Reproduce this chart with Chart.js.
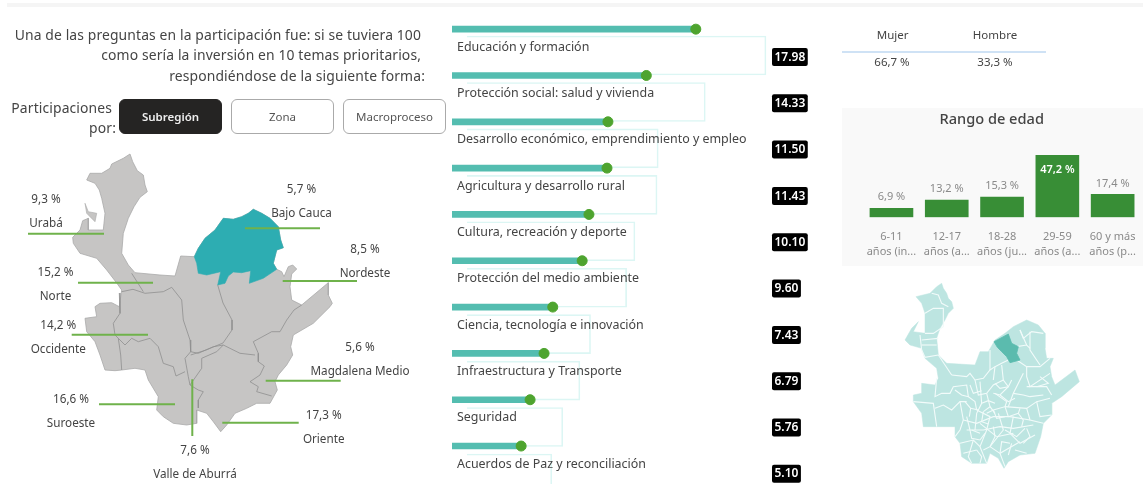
<!DOCTYPE html>
<html lang="es"><head><meta charset="utf-8">
<script src="https://cdn.jsdelivr.net/npm/chart.js@4"></script>
<style>
html,body{margin:0;padding:0;background:#fff;overflow:hidden;width:1143px;height:484px}
#page{position:relative;width:1143px;height:484px;overflow:hidden;font-family:"Noto Sans",sans-serif;color:#444;filter:blur(.35px)}
#page>*{position:absolute}
canvas{display:block}
.r{text-align:right;white-space:nowrap;font-size:13.9px;line-height:20px;letter-spacing:.12px}
.c{text-align:center;white-space:nowrap;font-size:11.5px;line-height:16px;transform:translateX(-50%)}
.b{box-sizing:border-box;width:103px;height:35px;border:1px solid #aaa;border-radius:6px;text-align:center;font-size:11.5px;line-height:33px;background:#fff;color:#555}
.b.on{background:#252423;color:#eee;border-color:#252423;font-weight:600}
</style></head><body>
<div id="page">
<div style="left:7px;top:3px;width:1136px;height:4px;background:#f5f5f5"></div>
<div class="r" style="right:722px;top:25px">Una de las preguntas en la participación fue: si se tuviera 100</div>
<div class="r" style="right:722px;top:45px">como sería la inversión en 10 temas prioritarios,</div>
<div class="r" style="right:718px;top:66px">respondiéndose de la siguiente forma:</div>
<div class="r" style="right:1031px;top:98px">Participaciones</div>
<div class="r" style="right:1027px;top:118px">por:</div>
<div class="b on" style="left:119px;top:99px">Subregión</div>
<div class="b" style="left:231px;top:99px">Zona</div>
<div class="b" style="left:343px;top:99px">Macroproceso</div>
<canvas id="mapBig" width="440" height="344" style="left:0;top:140px"></canvas>
<canvas id="boxes" width="390" height="530" style="left:440px;top:0"></canvas>
<canvas id="themes" width="390" height="484" style="left:440px;top:0"></canvas>
<div style="left:842px;top:50.5px;width:204px;height:2px;background:#cfe2f5"></div>
<div class="c" id="g0" style="left:892.7px;top:27px"></div>
<div class="c" id="g1" style="left:995px;top:27px"></div>
<div class="c" id="v0" style="left:892px;top:53.5px"></div>
<div class="c" id="v1" style="left:995px;top:53.5px"></div>
<div style="left:842px;top:108px;width:301px;height:158px;background:#f9f9f9"></div>
<div class="c" style="left:991.7px;top:107.5px;font-size:14.6px;line-height:20px;font-weight:500;color:#444">Rango de edad</div>
<canvas id="ages" width="301" height="158" style="left:842px;top:108px"></canvas>
<canvas id="mapSmall" width="263" height="214" style="left:880px;top:270px"></canvas>
</div>
<script>
// ---- data ----
const genderLabels = ["Mujer", "Hombre"];
const genderValues = [66.7, 33.3];
const ageLabels = [["6-11","años (in..."],["12-17","años (a..."],["18-28","años (ju..."],["29-59","años (a..."],["60 y más","años (p..."]];
const ageValues = [6.9, 13.2, 15.3, 47.2, 17.4];
const themeLabels = ["Educación y formación","Protección social: salud y vivienda","Desarrollo económico, emprendimiento y empleo","Agricultura y desarrollo rural","Cultura, recreación y deporte","Protección del medio ambiente","Ciencia, tecnología e innovación","Infraestructura y Transporte","Seguridad","Acuerdos de Paz y reconciliación"];
const themeValues = [17.98, 14.33, 11.50, 11.43, 10.10, 9.60, 7.43, 6.79, 5.76, 5.10];
const regionNames = ["Urabá","Bajo Cauca","Norte","Nordeste","Occidente","Magdalena Medio","Suroeste","Oriente","Valle de Aburrá"];
const regionValues = [9.3, 5.7, 15.2, 8.5, 14.2, 5.6, 16.6, 17.3, 7.6];
// geometry of the large map, in page pixels
const mapOutline = [[130,154],[132.7,161.7],[137.3,170.7],[143.3,175],[145,185],[147.3,191.7],[140,197.3],[134,206.7],[128.3,218.3],[123.3,233.3],[121.7,253.3],[128.3,265],[135,272.7],[160,275],[175,276],[180.7,256],[194.3,256.7],[198.3,248.3],[205,238.3],[215,230],[223.3,218.3],[233.3,219.3],[241.7,216.7],[248.3,213.3],[253.3,209.3],[261.7,213.3],[270,218.3],[278.3,226.7],[280.7,240],[283.3,247.7],[276.7,250],[273.3,263.3],[276.7,269.3],[281.7,271.7],[284,276.7],[288.3,266.7],[292.7,265],[296.7,269],[291.7,274],[290,286.7],[291.7,300],[301.7,305],[328.3,282.7],[328.3,295],[332.3,303.3],[330,306.7],[313.3,323.3],[293.3,335],[290.7,346.7],[292.7,355],[286.7,365],[278.3,375],[275,381.7],[277.3,390],[270,403.3],[256.7,403.3],[246.7,408.3],[235,413.3],[226.7,425],[220.7,431.7],[213.3,421.7],[206.7,413.3],[196.7,410],[196.7,423.3],[186.7,425],[173.3,423.3],[163.3,416.7],[156.7,410],[158.3,396.7],[148.3,380],[145,370],[135,368.3],[121.7,370],[115,370.7],[105,370],[100,355],[95,341.7],[86.7,331.7],[85,318.3],[96.7,316.7],[95,306.7],[100,303.3],[111.7,302.7],[119.3,306.7],[121.7,290],[116.7,283],[106.7,270],[96.7,258.3],[80,253.3],[73.3,243.3],[72.7,237.3],[80,230],[82.7,220.7],[88.3,218.3],[88.3,230],[103.3,230],[105,213.3],[101.7,198.3],[99.3,190],[95,183.3],[86.7,180],[90,173.3],[101.7,173.3],[110,168.3],[111.7,164],[123.3,158.3],[130,154]];
const mapIsland = [[85,203.3],[88.3,211.7],[96.7,213.3],[95,221.7],[90,216.7],[86.7,213.3],[85,203.3]];
const mapSelected = [[194.3,256.7],[198.3,248.3],[205,238.3],[215,230],[223.3,218.3],[233.3,219.3],[241.7,216.7],[248.3,213.3],[253.3,209.3],[261.7,213.3],[270,218.3],[278.3,226.7],[280.7,240],[283.3,247.7],[276.7,250],[273.3,263.3],[276.7,269.3],[263.3,278.3],[249.3,283.3],[250.7,270.7],[241.7,272.7],[233.3,272],[228.3,276],[225,283.3],[217.7,285],[220.7,271.7],[206.7,275],[198.3,273.3],[196.7,263.3],[194.3,256.7]];
const mapBorders = [
 [[121.7,291.7],[133,289.3],[145,293.3],[163.3,291.7],[171.7,287.3],[181.7,300],[183.3,320],[190,340],[190.7,351.7]],
 [[131.7,273.3],[143.3,291.7]],
 [[217.7,285],[223,303],[232,320],[232,330],[223,343],[206,350],[190.7,355]],
 [[190.7,351.7],[185,358.3],[188.3,376.7],[190,385],[201.7,368.3],[201.7,358.3],[216.7,351.7],[223.3,345],[213.3,346.7],[198.3,353.3],[190.7,351.7]],
 [[118.3,338.3],[125,345],[131.7,338.3],[138.3,341.7],[150,338.3],[158.3,346.7],[163.3,363.3],[173.3,366.7],[176,376],[185,371.7]],
 [[119.3,293],[120,313.3],[113.3,323.3],[115,335],[118.3,338.3],[120.7,355],[121.7,370]],
 [[223.3,345],[240,353.3],[255,355]],
 [[253.3,341.7],[258.3,353.3],[258.3,361.7],[264.3,366],[260,375],[250,381.7],[258.3,386.7],[256.7,391.7],[271.7,396]],
 [[253.3,341.7],[271.7,331.7],[280,331.7],[286.7,320],[294,310],[301.7,305]],
 [[190,385],[198.3,390],[203.3,391.7],[198.3,400],[198.3,408]]
];
const mapLeaders = [[[28,233.7],[104,233.7]],[[245,228.3],[320,228.3]],[[78,282.7],[153,282.7]],[[282.7,281],[357,281]],[[71.7,334.7],[148,334.7]],[[265.7,380.7],[340.7,380.7]],[[99,404.3],[175,404.3]],[[222.3,422.7],[298.7,422.7]],[[192.3,379.3],[192.3,436]]];
// geometry of the small map, in its own grid
const smallOutline = [[185,40],[190,55],[200,70],[205,85],[215,95],[220,115],[205,130],[195,150],[180,175],[170,205],[175,255],[200,280],[285,285],[300,245],[325,245],[345,210],[375,190],[400,170],[440,150],[475,165],[495,190],[495,235],[500,265],[520,265],[510,290],[515,320],[525,345],[585,300],[598,335],[545,380],[515,400],[515,435],[490,460],[482,500],[465,550],[420,555],[385,575],[372,595],[355,565],[330,550],[320,580],[275,580],[245,560],[240,520],[225,500],[225,470],[175,470],[130,470],[125,430],[100,395],[100,375],[125,370],[125,340],[165,345],[175,325],[170,295],[135,265],[125,235],[90,225],[75,210],[95,175],[115,155],[100,185],[135,190],[135,130],[125,100],[108,80],[150,70],[170,50],[185,40]];
const smallSelected = [[342,215],[385,192],[395,220],[415,230],[410,250],[420,270],[390,278],[380,260],[365,245],[352,232],[342,215]];
const smallBorders = [
 [[155,70],[175,75],[185,100],[205,110]],[[135,130],[160,115],[190,115],[190,170],[160,190],[135,190]],[[120,195],[125,240],[135,262],[175,255]],[[125,210],[175,205]],[[125,225],[170,225]],[[175,255],[215,315]],
 [[215,315],[260,320],[270,310],[285,330],[310,325],[330,300],[345,290]],[[330,240],[330,300]],[[345,290],[365,280],[385,270]],[[410,270],[440,290],[480,290],[510,265]],[[420,180],[430,205],[455,185],[490,190]],[[450,185],[450,240],[480,285]],[[410,230],[440,225],[450,235]],[[440,290],[440,320],[450,350],[510,310]],[[365,285],[370,330],[385,350],[360,375],[340,370]],
 [[170,325],[165,380],[185,370],[210,370],[220,350],[260,345],[265,380],[285,395],[290,420]],[[100,395],[160,400],[170,470]],[[165,415],[190,405],[215,420],[240,395],[260,395]],[[240,395],[250,450],[240,480],[225,500]],[[285,330],[295,375],[320,370],[340,345],[370,330]],[[300,335],[305,400],[290,430],[285,480]],[[320,370],[330,410],[310,425]],[[345,370],[380,395],[375,410],[340,420],[320,430]],[[375,410],[440,415],[470,395],[510,385]],[[430,310],[400,370],[385,410]],[[440,350],[470,350],[500,350],[515,375]],[[450,380],[490,375]],[[470,395],[480,440],[515,435]],[[440,415],[450,450],[490,460]],[[250,450],[290,460],[340,440],[390,440],[450,450]],[[260,480],[310,480],[360,470],[400,475],[460,465]],[[290,420],[330,440],[320,480],[300,530],[320,580]],[[355,430],[370,480],[330,530],[310,540]],[[400,440],[390,490],[420,520],[465,495]],[[240,520],[280,510],[300,530]],[[250,550],[290,540]],[[330,530],[360,550],[420,515]],[[360,550],[375,590]],[[385,555],[395,520]],[[280,510],[265,560],[275,580]],[[350,500],[400,490]],[[260,440],[270,480]],[[300,460],[350,500]],
 [[270,345],[280,370],[305,362]],[[305,400],[325,392],[345,400]],[[255,395],[272,415],[268,440]],[[272,415],[295,420]],[[310,425],[305,455],[325,462]],[[340,420],[350,445],[375,440]],[[375,410],[385,440],[415,430],[420,415]],[[415,430],[430,450],[425,470]],[[270,480],[275,505],[300,510],[315,490]],[[340,470],[345,500],[330,530]],[[375,480],[410,500],[435,475]],[[430,520],[450,500],[440,475]],[[290,540],[305,560],[300,580]],[[390,520],[365,515],[360,550]],[[405,540],[440,550]],[[345,340],[360,355],[385,350],[395,330]],[[480,320],[505,340],[470,350]],[[360,375],[385,395],[405,385]],[[330,410],[345,430]],[[225,360],[245,375],[265,380]],[[400,370],[430,375],[450,380]],[[300,490],[275,480]],[[440,225],[420,180]],[[345,290],[340,330]]
];
// ---- layout of the map labels (centre x, percent y, name y) ----
const regionLabelAt = [[46,199.5,223.2],[301.5,189.5,213.5],[55.5,272.8,296.5],[365,249.5,273.2],[58.3,325.8,349.5],[360,347.8,371.5],[71,399.5,423.2],[323.7,415.8,439.8],[195,450.5,474.5]];
const FONT = '"Noto Sans",sans-serif';
const pct = v => v.toFixed(1).replace('.', ',') + ' %';
const pts = a => a.map(p => ({x:p[0], y:p[1]}));
const hidden = {display:false};
Chart.defaults.animation = false;
Chart.defaults.responsive = false;
Chart.defaults.plugins.legend.display = false;
Chart.defaults.plugins.tooltip.enabled = false;
Chart.defaults.font.family = FONT;

document.getElementById('g0').textContent = genderLabels[0];
document.getElementById('g1').textContent = genderLabels[1];
document.getElementById('v0').textContent = pct(genderValues[0]);
document.getElementById('v1').textContent = pct(genderValues[1]);

const poly = (a, fillColor, line, w) => ({data:pts(a), showLine:true, fill:fillColor?'shape':false, backgroundColor:fillColor||'transparent', borderColor:line, borderWidth:w, pointRadius:0, tension:0, clip:false});

// large map (first dataset is painted last)
new Chart(document.getElementById('mapBig'), {
  type:'scatter',
  data:{datasets:[
    ...mapLeaders.map(b => poly(b,null,'#6fb24b',2)),
    ...mapBorders.map(b => poly(b,null,'#8f8f8f',.8)),
    poly(mapSelected,'#2dadb2','#2dadb2',.6),
    poly(mapIsland,'#c6c5c4','#a9a9a9',.6),
    poly(mapOutline,'#c6c5c4','#a9a9a9',.8)
  ]},
  options:{scales:{x:{display:false,type:'linear',min:0,max:440},y:{display:false,type:'linear',min:140,max:484,reverse:true}}},
  plugins:[{id:'regionText',afterDatasetsDraw(c){
    const {ctx,scales:{x,y}} = c;
    ctx.save();ctx.font='11.7px '+FONT;ctx.fillStyle='#444';ctx.textAlign='center';ctx.textBaseline='middle';
    regionNames.forEach((n,i)=>{const [cx,py,ny]=regionLabelAt[i];
      ctx.fillText(pct(regionValues[i]),x.getPixelForValue(cx),y.getPixelForValue(py));
      ctx.fillText(n,x.getPixelForValue(cx),y.getPixelForValue(ny));});
    ctx.restore();
  }}]
});

// faint outline boxes behind the themes
new Chart(document.getElementById('boxes'), {
  type:'bar',
  data:{labels:themeLabels,datasets:[{data:themeValues,backgroundColor:'transparent',borderColor:'#dcf6f4',borderWidth:1,barThickness:39}]},
  options:{indexAxis:'y',layout:{padding:{left:27,top:32.3,right:0,bottom:33.3}},scales:{x:{display:false,min:0,max:21.83},y:hidden}}
});

// themes lollipop
new Chart(document.getElementById('themes'), {
  data:{labels:themeLabels,datasets:[
    {type:'scatter',data:themeValues.map((v,i)=>({x:v,y:themeLabels[i]})),backgroundColor:'#4ea42f',borderColor:'#4ea42f',pointRadius:5,order:0},
    {type:'bar',data:themeValues,backgroundColor:'#54bdb0',barThickness:6,order:1}
  ]},
  options:{indexAxis:'y',layout:{padding:{left:12,top:4.8,right:39,bottom:14.8}},scales:{x:{display:false,min:0,max:25},y:{display:false,type:'category'}}},
  plugins:[{id:'themeText',afterDatasetsDraw(c){
    const {ctx,scales:{y}} = c;
    ctx.save();ctx.textBaseline='middle';
    themeLabels.forEach((n,i)=>{const cy=y.getPixelForValue(i);
      ctx.font='12.45px '+FONT;ctx.fillStyle='#444';ctx.textAlign='left';ctx.fillText(n,17,cy+18);
      const t=themeValues[i].toFixed(2);ctx.font='600 12px '+FONT;const w=ctx.measureText(t).width+5;
      ctx.fillStyle='#000';ctx.beginPath();ctx.roundRect(332,cy+18.8,w,18,2);ctx.fill();
      ctx.fillStyle='#fff';ctx.fillText(t,334.5,cy+28);});
    ctx.restore();
  }}]
});

// age bars
new Chart(document.getElementById('ages'), {
  type:'bar',
  data:{labels:ageLabels,datasets:[{data:ageValues,backgroundColor:'#388e36',barThickness:43}]},
  options:{layout:{padding:{left:21.8,right:2.7}},scales:{
    x:{grid:hidden,border:hidden,afterFit:s=>{s.height=48.7;s.paddingLeft=0;s.paddingRight=0},ticks:{color:'#8a8a8a',font:{size:11,lineHeight:1.36},padding:4,maxRotation:0,autoSkip:false}},
    y:{display:false,min:0,max:83.2}}},
  plugins:[{id:'ageText',afterDatasetsDraw(c){
    const {ctx} = c, m=c.getDatasetMeta(0), top=Math.max(...ageValues);
    ctx.save();ctx.font='11px '+FONT;ctx.textAlign='center';ctx.textBaseline='middle';
    m.data.forEach((b,i)=>{const big=ageValues[i]===top;
      ctx.fillStyle=big?'#fff':'#8a8a8a';if(big)ctx.font='600 11px '+FONT;
      ctx.fillText(pct(ageValues[i]),b.x,big?b.y+15:b.y-11);ctx.font='11px '+FONT;});
    ctx.restore();
  }}]
});

// small map
new Chart(document.getElementById('mapSmall'), {
  type:'scatter',
  data:{datasets:[
    poly(smallSelected,'#5bbbae','#5bbbae',.8),
    ...smallBorders.map(b => poly(b,null,'#f2fbfa',1.1)),
    poly(smallOutline,'#bde5e1','#bde5e1',.5)
  ]},
  options:{scales:{x:{display:false,type:'linear',min:0,max:789},y:{display:false,type:'linear',min:0,max:642,reverse:true}}}
});
</script>
</body></html>
